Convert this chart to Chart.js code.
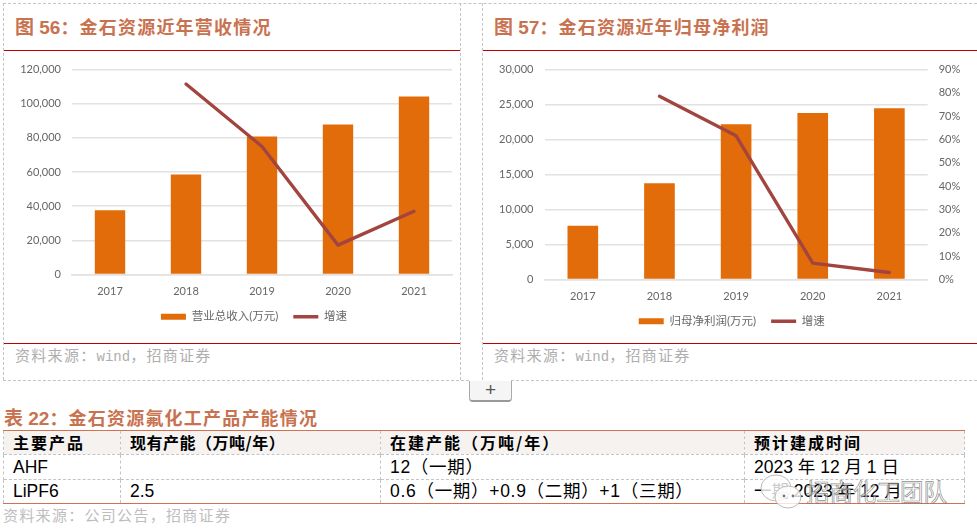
<!DOCTYPE html>
<html><head><meta charset="utf-8">
<script src="https://cdn.jsdelivr.net/npm/chart.js@4"></script>
<style>
html,body{margin:0;padding:0;background:#fff;width:977px;height:532px;overflow:hidden}
body{position:relative;font-family:"Liberation Sans","Noto Sans CJK SC",sans-serif}
.abs{position:absolute}
.hl{position:absolute;height:0;border-top:1px dashed #c4c4c4}
.vl{position:absolute;width:0;border-left:1px dashed #c4c4c4}
.red{position:absolute;height:0;border-top:1.5px solid #c00000}
.ttl{position:absolute;font:bold 18px "Noto Sans CJK SC",sans-serif;color:#c9724f;letter-spacing:1.2px;white-space:pre;line-height:26px}
.ttl b{font:bold 19px "Liberation Sans","Noto Sans CJK SC",sans-serif;letter-spacing:0}
.src{position:absolute;font:15px "Noto Sans CJK SC",sans-serif;color:#aeaeae;letter-spacing:1.3px;white-space:pre;line-height:22px}
.src i{font:14px "Liberation Mono",monospace;letter-spacing:0}
canvas{position:absolute}
table{position:absolute;left:3px;top:430px;width:961px;border-collapse:collapse;table-layout:fixed;border-top:1.5px solid #d0714f;border-bottom:1.5px solid #d0714f}
td{border-left:1px dashed #c4c4c4;border-right:1px dashed #c4c4c4;border-top:1px dashed #c4c4c4;height:24.4px;padding:0 0 1px 9px;font-size:17.5px;line-height:20px;color:#000;white-space:pre;overflow:hidden;box-sizing:border-box}
td.w{letter-spacing:.7px}
tr.h td{background:#f5f2f0;font:bold 16px/20px "Noto Sans CJK SC",sans-serif;letter-spacing:2px;border-top:none}
</style></head><body>
<div class="hl" style="left:3px;top:3px;width:974px"></div>
<div class="vl" style="left:3px;top:3px;height:377px"></div>
<div class="vl" style="left:460px;top:3px;height:377px"></div>
<div class="vl" style="left:482px;top:3px;height:377px"></div>
<div class="hl" style="left:3px;top:380px;width:466px"></div>
<div class="hl" style="left:511px;top:380px;width:466px"></div>
<div class="red" style="left:4px;top:50px;width:456px"></div>
<div class="red" style="left:483px;top:50px;width:494px"></div>
<div class="red" style="left:4px;top:343px;width:456px"></div>
<div class="red" style="left:483px;top:343px;width:494px"></div>
<div class="ttl" style="left:15px;top:12px"><b>&#22270; 56</b>&#xFF1A;金石资源近年营收情况</div>
<div class="ttl" style="left:494px;top:12px"><b>&#22270; 57</b>&#xFF1A;金石资源近年归母净利润</div>
<div class="src" style="left:15px;top:344px">资料来源&#xFF1A;<i>wind</i>&#xFF0C;招商证券</div>
<div class="src" style="left:494px;top:344px">资料来源&#xFF1A;<i>wind</i>&#xFF0C;招商证券</div>
<canvas id="c1" style="left:4px;top:52px"></canvas>
<canvas id="c2" style="left:483px;top:52px"></canvas>
<div class="abs" style="left:469px;top:381px;width:41px;height:19px;border:1px solid #aaa;border-top:none;border-bottom:2px solid #999;border-radius:0 0 4px 4px;background:#f5f5f5;color:#555;font:19px/18px 'Liberation Sans';text-align:center">+</div>
<div class="ttl" style="left:4px;top:403px"><b>表 22</b>&#xFF1A;金石资源氟化工产品产能情况</div>
<table>
<colgroup><col style="width:117px"><col style="width:260px"><col style="width:364px"><col style="width:220px"></colgroup>
<tr class="h"><td>主要产品</td><td style="letter-spacing:.5px">现有产能&#xFF08;万吨/年&#xFF09;</td><td>在建产能&#xFF08;万吨/年&#xFF09;</td><td>预计建成时间</td></tr>
<tr><td>AHF</td><td></td><td class="w">12&#xFF08;一期&#xFF09;</td><td>2023 年 12 月 1 日</td></tr>
<tr><td>LiPF6</td><td>2.5</td><td class="w">0.6&#xFF08;一期&#xFF09;+0.9&#xFF08;二期&#xFF09;+1&#xFF08;三期&#xFF09;</td><td>一期 2023 年 12 月</td></tr>
</table>
<div class="src" style="left:3px;top:504px;color:#bdbdbd">资料来源&#xFF1A;公司公告&#xFF0C;招商证券</div>
<svg class="abs" style="left:756px;top:472px" width="52" height="40"><ellipse cx="20" cy="16" rx="15" ry="13" fill="rgba(255,255,255,.8)" stroke="#bbb"/><ellipse cx="32" cy="25" rx="13" ry="11" fill="rgba(255,255,255,.8)" stroke="#bbb"/><circle cx="28" cy="24" r="1.4" fill="#777"/><circle cx="37" cy="24" r="1.4" fill="#777"/></svg>
<div class="abs" style="left:806px;top:476px;font:23.5px 'Noto Sans CJK SC',sans-serif;color:rgba(255,255,255,.55);-webkit-text-stroke:.7px rgba(110,110,110,.8);white-space:pre;line-height:30px">招商化工团队</div>
<script>
const years = ["2017","2018","2019","2020","2021"];
const revenue = [37700,58500,80800,87800,104200];
const revenueGrowth = [null,55.8,37.5,8.6,18.5];
const profit = [7690,13770,22200,23780,24490];
const profitGrowth = [null,78.6,61.6,7.0,3.0];
const revenueLabel = "营业总收入(万元)";
const profitLabel = "归母净利润(万元)";
const growthLabel = "增速";
const BAR = "#e36c0a", LINE = "#a2443f", GRID = "#e2e2e2", TXT = "#666666";
const FAM = "Lato,'Noto Sans CJK SC',sans-serif";
const tickFont = {family:FAM, size:11};
const legendShift = {id:"legendShift", beforeDraw(ch, a, o){ if(!ch.$shifted){ ch.legend.left += o.dx; ch.legend.right += o.dx; ch.$shifted = true; } }};
function make(id, w, h, barLabel, bars, line, yMax, yStep, y1Max, showRight, L){
  const c = document.getElementById(id);
  c.style.width = w+"px"; c.style.height = h+"px"; c.width = w; c.height = h;
  return new Chart(c, {
    type:"bar",
    plugins:[legendShift],
    data:{labels:years, datasets:[
      {type:"bar", label:barLabel, data:bars, yAxisID:"y", backgroundColor:BAR, borderWidth:0, pointStyle:"rect", barPercentage:.8, categoryPercentage:.5, order:2},
      {type:"line", label:growthLabel, data:line, yAxisID:"y1", borderColor:LINE, backgroundColor:LINE, borderWidth:3.3, pointRadius:0, pointHitRadius:0, pointStyle:"line", pointBorderWidth:3.3, pointBorderColor:LINE, tension:0, borderCapStyle:"round", borderJoinStyle:"round", order:1}
    ]},
    options:{
      responsive:false, animation:false, devicePixelRatio:1,
      layout:{padding:{left:0,right:L.padR,top:L.padT,bottom:L.padB}},
      plugins:{
        tooltip:{enabled:false},
        legendShift:{dx:L.dx},
        legend:{position:"bottom", reverse:true, labels:{usePointStyle:true, pointStyleWidth:25, boxHeight:6, color:TXT, font:{family:FAM,size:11.5}, padding:15}}
      },
      scales:{
        x:{grid:{display:false}, border:{color:GRID,width:1.5}, ticks:{color:TXT,font:tickFont,padding:L.xPad}, afterFit(s){s.height=L.xH}},
        y:{position:"left", min:0, max:yMax, ticks:{stepSize:yStep,color:TXT,font:tickFont,padding:11,callback:v=>v.toLocaleString("en-US")}, grid:{color:GRID,lineWidth:1.5,drawTicks:false}, border:{display:false}, afterFit(s){s.width=L.yW}},
        y1:{position:"right", min:0, max:y1Max, display:showRight, ticks:{stepSize:10,color:TXT,font:tickFont,padding:11,callback:v=>v+"%"}, grid:{display:false,drawTicks:false}, border:{display:false}, afterFit(s){s.width=L.y1W}}
      }
    }
  });
}
make("c1",456,290,revenueLabel,revenue,revenueGrowth,120000,20000,60,false,{dx:26,padR:8,padT:16.3,padB:9.5,xH:21.5,xPad:2,yW:68,y1W:0});
make("c2",494,290,profitLabel,profit,profitGrowth,30000,5000,90,true,{dx:1.8,padR:0,padT:12.6,padB:5,xH:21,xPad:2,yW:61.5,y1W:49.3});
</script>
</body></html>
